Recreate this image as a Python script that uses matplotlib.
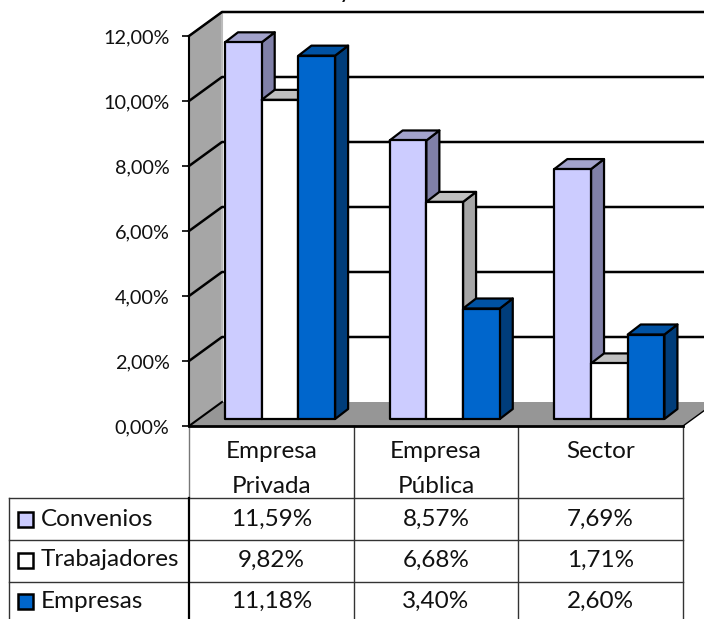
import matplotlib
matplotlib.use("Agg")
import matplotlib.pyplot as plt
from matplotlib.patches import Rectangle

plt.rcParams['font.family'] = ['Lato', 'DejaVu Sans']

categories = ["Empresa\nPrivada", "Empresa\nPública", "Sector"]
series_names = ["Convenios", "Trabajadores", "Empresas"]
convenios = [11.59, 8.57, 7.69]
trabajadores = [9.82, 6.68, 1.71]
empresas = [11.18, 3.40, 2.60]
yticks = [0, 2, 4, 6, 8, 10, 12]

W, H = 704, 619
# position of the plot front in pixels
X0, X1, Y0, Y12 = 189, 683, 426, 36
PX = 3 / (X1 - X0)
PY = 12 / (Y0 - Y12)

# colours: front, top, side
colors = [("#CCCCFF", "#A3A3CC", "#8080A8"),
          ("#FFFFFF", "#C0C0C0", "#A6A6A6"),
          ("#0066CC", "#0052A3", "#003D7A")]
TEXT = "#111111"


def pct(v):
	return f"{v:.2f}%".replace(".", ",")


def xpx(p):
	return (p - X0) * PX


def ypx(p):
	return (Y0 - p) * PY


def bar3d(ax, x, w, base, h, cols):
	# front, top and side faces of one bar
	dx, dy = 13 * PX, 10 * PY
	front = [(x, base), (x + w, base), (x + w, base + h), (x, base + h)]
	top = [(x, base + h), (x + w, base + h), (x + w + dx, base + h + dy), (x + dx, base + h + dy)]
	side = [(x + w, base), (x + w + dx, base + dy), (x + w + dx, base + h + dy), (x + w, base + h)]
	for pts, c in zip((side, top, front), (cols[2], cols[1], cols[0])):
		ax.fill(*zip(*pts), facecolor=c, edgecolor="black", linewidth=1.6,
			joinstyle="round", clip_on=False, zorder=3)


fig = plt.figure(figsize=(W / 100, H / 100), dpi=100, facecolor="white")
ax = fig.add_axes([X0 / W, 1 - Y0 / H, (X1 - X0) / W, (Y0 - Y12) / H])
ax.set_xlim(0, 3)
ax.set_ylim(0, 12)
ax.patch.set_visible(False)
for s in ("top", "right"):
	ax.spines[s].set_visible(False)
ax.spines["left"].set_linewidth(1.5)
ax.spines["bottom"].set_linewidth(2)

# walls and floor
wall_dx, wall_dy = 33 * PX, 24 * PY
ax.fill([0, wall_dx, wall_dx, 0], [0, wall_dy, 12 + wall_dy, 12],
	facecolor="#A6A6A6", edgecolor="none", clip_on=False, zorder=1)
ax.fill([0, 3, 3 + wall_dx, wall_dx], [0, 0, wall_dy, wall_dy],
	facecolor="#969696", edgecolor="none", clip_on=False, zorder=1)
ax.plot([wall_dx, wall_dx], [wall_dy, 12 + wall_dy], color="#BBBBBB", lw=1.5, clip_on=False, zorder=1.5)
ax.plot([3, 3 + wall_dx], [0, wall_dy], color="black", lw=1, clip_on=False, zorder=1.5)
ax.plot([0, wall_dx], [12, 12 + wall_dy], color="#666666", lw=1.2, clip_on=False, zorder=1.5)

# grid lines over wall and back
for t in yticks[1:]:
	ax.plot([0, wall_dx, 3 + wall_dx], [t, t + wall_dy, t + wall_dy], color="black",
		lw=1.8, clip_on=False, zorder=2)
ax.plot([0, wall_dx], [0, wall_dy], color="black", lw=1.5, clip_on=False, zorder=2)

# bars
bar_w = 36.7 * PX
bar_base = ypx(419)
for g in range(3):
	for i, vals in enumerate((convenios, trabajadores, empresas)):
		x = xpx(225) + g + i * bar_w
		bar3d(ax, x, bar_w, bar_base, vals[g], colors[i])

ax.set_yticks(yticks)
ax.set_yticklabels([pct(t) for t in yticks], fontsize=14.3, color=TEXT)
ax.tick_params(axis="y", length=5, width=1.2, pad=9)
ax.set_xticks([0.5, 1.5, 2.5])
ax.set_xticklabels(categories, fontsize=17.5, color=TEXT, linespacing=1.8, va="top")
ax.tick_params(axis="x", length=0, pad=11)

# data table
row_lines = [498, 540, 582]
bottom = 625
for yp in row_lines:
	ax.plot([xpx(9), 3], [ypx(yp)] * 2, color="#333333", lw=1, clip_on=False)
ax.plot([xpx(9)] * 2, [ypx(498), ypx(bottom)], color="#333333", lw=1, clip_on=False)
ax.plot([0, 0], [0, ypx(498)], color="#777777", lw=1, clip_on=False)
ax.plot([0, 0], [ypx(498), ypx(bottom)], color="black", lw=1.6, clip_on=False)
for c in (1, 2, 3):
	ax.plot([c, c], [0, ypx(bottom)], color="#333333", lw=1, clip_on=False)

row_centers = [519, 560, 601]
for i, (name, vals) in enumerate(zip(series_names, (convenios, trabajadores, empresas))):
	yp = row_centers[i]
	ax.add_patch(Rectangle((xpx(18), ypx(yp + 7.5)), 15 * PX, 15 * PY, facecolor=colors[i][0],
		edgecolor="black", linewidth=1.8, clip_on=False))
	ax.text(xpx(41), ypx(yp), name, fontsize=17.5, color=TEXT, va="center", ha="left", clip_on=False)
	for g in range(3):
		ax.text(g + 0.5, ypx(yp), pct(vals[g]), fontsize=17.5, color=TEXT,
			va="center", ha="center", clip_on=False)

# descender of the title, cut off by the top of the picture
fig.text(345 / W, 1 + 1.5 / H, "y", fontsize=18, ha="center", va="baseline", color=TEXT)

fig.savefig("out.png", dpi=100)
